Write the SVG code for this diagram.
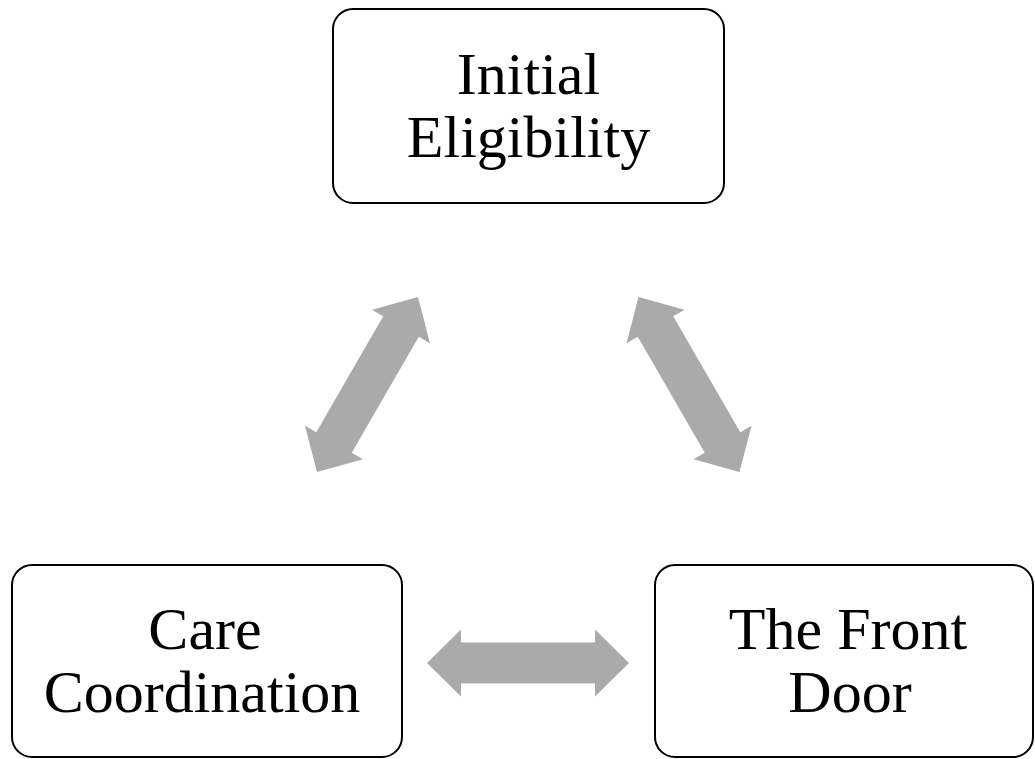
<svg xmlns="http://www.w3.org/2000/svg" xmlns:xlink="http://www.w3.org/1999/xlink" width="1035" height="759" viewBox="0 0 1035 759">
<style>
.box{fill:#fff;stroke:#000;stroke-width:2}
.lbl{font-family:"Liberation Serif","Times New Roman",serif;font-size:60px;fill:#000;text-anchor:middle}
.arr{fill:#AAAAAA}
</style>
<defs>
<path id="dbl" d="M-101,0 L-67,-33.5 L-67,-20.5 L67,-20.5 L67,-33.5 L101,0 L67,33.5 L67,20.5 L-67,20.5 L-67,33.5 Z"/>
</defs>
<rect width="1035" height="759" fill="#fff"/>
<g id="connectors">
<use xlink:href="#dbl" href="#dbl" class="arr" transform="translate(367.5,384.5) rotate(-60)"/>
<use xlink:href="#dbl" href="#dbl" class="arr" transform="translate(689,384.5) rotate(60)"/>
<use xlink:href="#dbl" href="#dbl" class="arr" transform="translate(528,663)"/>
</g>
<g id="node-initial-eligibility">
<rect class="box" x="333" y="9" width="391" height="194" rx="20" ry="20"/>
<text class="lbl" x="528.5" y="94">Initial</text>
<text class="lbl" x="528.5" y="157">Eligibility</text>
</g>
<g id="node-care-coordination">
<rect class="box" x="12" y="565" width="390" height="192" rx="20" ry="20"/>
<text class="lbl" x="205" y="649">Care</text>
<text class="lbl" x="202" y="712">Coordination</text>
</g>
<g id="node-front-door">
<rect class="box" x="655" y="565" width="378" height="192" rx="20" ry="20"/>
<text class="lbl" x="848" y="649">The Front</text>
<text class="lbl" x="850" y="712">Door</text>
</g>
</svg>
